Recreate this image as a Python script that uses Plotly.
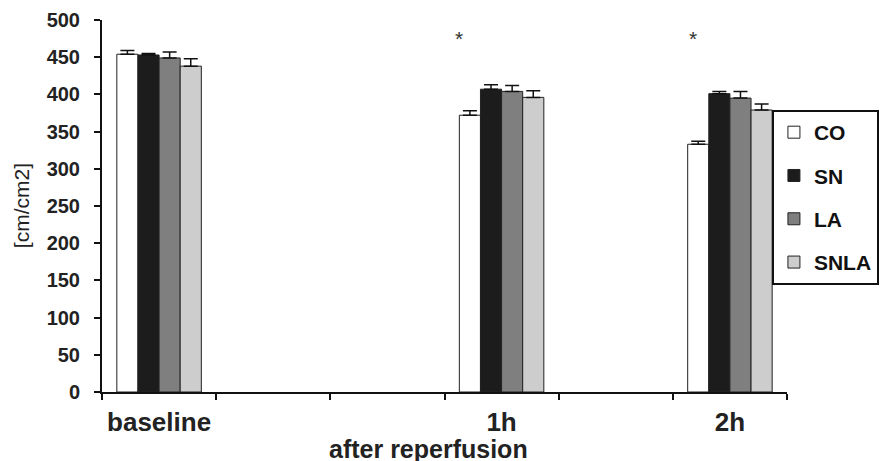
import plotly.graph_objects as go

categories = ["baseline", " ", "  ", "1h", "   ", "2h"]
groups = ["baseline", "1h", "2h"]
series_names = ["CO", "SN", "LA", "SNLA"]
co = [454, 372, 333]
sn = [453, 407, 401]
la = [449, 404, 395]
snla = [438, 396, 379]
co_err = [5, 6, 4]
sn_err = [2, 6, 3]
la_err = [8, 8, 9]
snla_err = [10, 9, 8]
colors = ["#ffffff", "#1c1c1c", "#7f7f7f", "#cdcdcd"]
star_groups = ["1h", "2h"]
star_shifts = [-43, -37]
star_value = 475

values = [co, sn, la, snla]
errs = [co_err, sn_err, la_err, snla_err]

FONT = "Liberation Sans, Arial, sans-serif"

fig = go.Figure()
for i, name in enumerate(series_names):
    fig.add_trace(go.Bar(
        x=groups, y=values[i], name=name,
        legendgroup=name,
        marker=dict(color=colors[i], line=dict(color="#222222", width=1)),
        error_y=dict(type="data", symmetric=False, array=errs[i],
                     arrayminus=[0] * len(groups),
                     color="#111111", thickness=1.5, width=7),
    ))

for g, s in zip(star_groups, star_shifts):
    fig.add_annotation(x=g, y=star_value, text="*", showarrow=False,
                       xshift=s, font=dict(family=FONT, size=21, color="#333333"),
                       yanchor="middle")

fig.add_annotation(xref="paper", yref="paper", x=0.477, y=-0.153,
                   text="<b>after reperfusion</b>", showarrow=False,
                   xanchor="center", yanchor="middle",
                   font=dict(family=FONT, size=25, color="#222222"))
fig.add_annotation(xref="paper", yref="paper", x=-0.118, y=0.5,
                   text="[cm/cm2]", textangle=-90, showarrow=False,
                   xanchor="center", yanchor="middle",
                   font=dict(family=FONT, size=21, color="#222222"))

fig.update_layout(
    width=883, height=453,
    margin=dict(l=94, r=104, t=12, b=69, autoexpand=False),
    paper_bgcolor="white", plot_bgcolor="white",
    barmode="group", bargap=0.26, bargroupgap=0,
    font=dict(family=FONT, color="#222222"),
    legend=dict(x=0.978, y=0.758, xanchor="left", yanchor="top",
                bordercolor="#111111", borderwidth=2, bgcolor="white",
                tracegroupgap=13,
                font=dict(family=FONT, size=21, color="#111111", weight="bold")),
    xaxis=dict(type="category", categoryorder="array", categoryarray=categories,
               tickson="boundaries", ticks="outside", ticklen=6, tickwidth=2,
               tickcolor="#111111", showline=True, linecolor="#111111", linewidth=2,
               showgrid=False, ticklabelstandoff=6,
               tickfont=dict(family=FONT, size=26, color="#222222", weight="bold")),
    yaxis=dict(range=[0, 500], tickvals=list(range(0, 501, 50)),
               ticks="outside", ticklen=6, tickwidth=2, tickcolor="#111111",
               showline=True, linecolor="#111111", linewidth=2,
               showgrid=False, zeroline=False, ticklabelstandoff=10,
               tickfont=dict(family=FONT, size=20, color="#222222", weight="bold")),
)

fig.write_html("out.html")
